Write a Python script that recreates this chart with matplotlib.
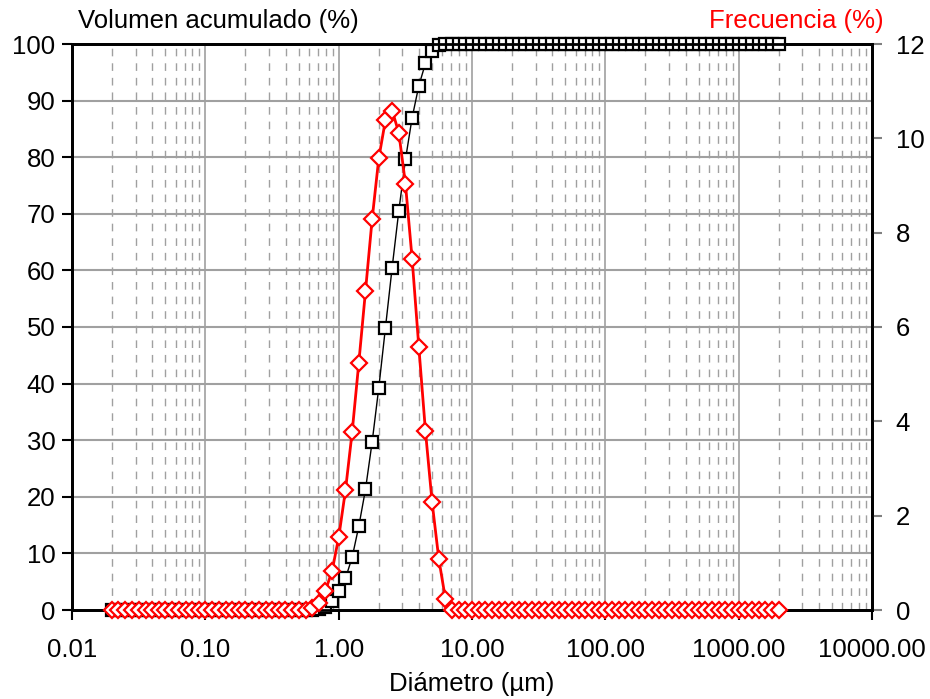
import numpy as np
import matplotlib.pyplot as plt
from matplotlib.ticker import FixedLocator, NullLocator, FuncFormatter

plt.rcParams['font.family'] = ['Liberation Sans', 'DejaVu Sans']

# size classes (um), 20 per decade from 0.02 to 2000
diametro = [
    0.020, 0.022, 0.025, 0.028, 0.032, 0.036, 0.040, 0.045, 0.050, 0.056,
    0.063, 0.071, 0.080, 0.089, 0.100, 0.112, 0.126, 0.142, 0.159, 0.178,
    0.200, 0.224, 0.252, 0.283, 0.317, 0.356, 0.399, 0.448, 0.502, 0.564,
    0.632, 0.710, 0.796, 0.893, 1.002, 1.125, 1.262, 1.416, 1.589, 1.783,
    2.000, 2.244, 2.518, 2.825, 3.170, 3.557, 3.991, 4.477, 5.024, 5.637,
    6.325, 7.096, 7.962, 8.934, 10.024, 11.247, 12.619, 14.159, 15.887, 17.825,
    20.000, 22.440, 25.179, 28.251, 31.698, 35.566, 39.905, 44.774, 50.238, 56.368,
    63.246, 70.963, 79.621, 89.337, 100.237, 112.468, 126.191, 141.589, 158.866, 178.250,
    200.000, 224.404, 251.785, 282.508, 316.979, 355.656, 399.052, 447.744, 502.377, 563.677,
    632.456, 709.627, 796.214, 893.367, 1002.374, 1124.683, 1261.915, 1415.892, 1588.656, 1782.502,
    2000.000,
]

# volumen acumulado (%) from 0.632 um up to 6.325 um; zero below, 100 above
acum_core = [0.0, 0.1, 0.6, 1.6, 3.4, 5.6, 9.3, 14.8, 21.3, 29.7,
             39.3, 49.9, 60.5, 70.5, 79.6, 87.0, 92.6, 96.6, 98.7, 99.8, 100.0]
# frecuencia (%) over the same range
frec_core = [0.04, 0.14, 0.41, 0.83, 1.55, 2.54, 3.77, 5.24, 6.76, 8.29,
             9.58, 10.39, 10.59, 10.12, 9.03, 7.44, 5.58, 3.79, 2.28, 1.08, 0.23]

i0 = diametro.index(0.632)
n_tail = len(diametro) - i0 - len(acum_core)
acumulado = [0.0] * i0 + acum_core + [100.0] * n_tail
frecuencia = [0.0] * i0 + frec_core + [0.0] * n_tail

x_ticks = [0.01, 0.1, 1, 10, 100, 1000, 10000]
grid_grey = '#a0a0a0'
fs = 18.5

fig = plt.figure(figsize=(9.30, 6.99), dpi=100)
ax = fig.add_axes([72 / 930, 1 - 610 / 699, 800 / 930, 566 / 699])
ax2 = ax.twinx()

ax.set_xscale('log')
ax.set_xlim(0.01, 10000)
ax.set_ylim(0, 100)
ax2.set_ylim(0, 12)

# grid: solid at decades and every 10 %, dashed at the minor decades
minors = [m * d for d in x_ticks[:-1] for m in range(2, 10)]
for xm in minors:
    ax.axvline(xm, color=grid_grey, lw=1.0, dashes=(5.5, 5), zorder=0)
for xd in x_ticks[1:-1]:
    ax.axvline(xd, color=grid_grey, lw=1.2, zorder=0)
for yv in range(10, 100, 10):
    ax.axhline(yv, color=grid_grey, lw=1.5, zorder=0)

ax.plot(diametro, acumulado, color='black', lw=1.0, marker='s', ms=8.2,
        mfc='white', mec='black', mew=1.6, zorder=3, clip_on=False)
ax2.plot(diametro, frecuencia, color='#ff0000', lw=2.0, marker='D', ms=8.0,
         mfc='white', mec='#ff0000', mew=1.6, zorder=3, clip_on=False)

ax.xaxis.set_major_locator(FixedLocator(x_ticks))
ax.xaxis.set_minor_locator(NullLocator())
ax.xaxis.set_major_formatter(FuncFormatter(lambda v, p: f'{v:.2f}'))
ax.set_yticks(range(0, 101, 10))
ax2.set_yticks(range(0, 13, 2))

for a in (ax, ax2):
    for s in a.spines.values():
        s.set_linewidth(2.0)
        s.set_color('black')
ax.tick_params(axis='x', direction='out', length=7, width=1.5, labelsize=fs, pad=13)
ax.tick_params(axis='y', direction='out', length=7, width=1.5, labelsize=fs, pad=5)
ax2.tick_params(axis='y', direction='out', length=7, width=1.5, color='#808080',
                labelsize=fs, pad=10)

# keep the red series above the black one
ax2.set_zorder(ax.get_zorder() + 1)
ax2.patch.set_visible(False)

fig.text(78 / 930, 1 - 21 / 699, 'Volumen acumulado (%)', fontsize=fs,
         ha='left', va='center')
fig.text(884 / 930, 1 - 21 / 699, 'Frecuencia (%)', fontsize=fs,
         color='#ff0000', ha='right', va='center')
fig.text(472 / 930, 1 - 684 / 699, 'Diámetro (µm)', fontsize=fs,
         ha='center', va='center')

fig.savefig('out.png', dpi=100)
